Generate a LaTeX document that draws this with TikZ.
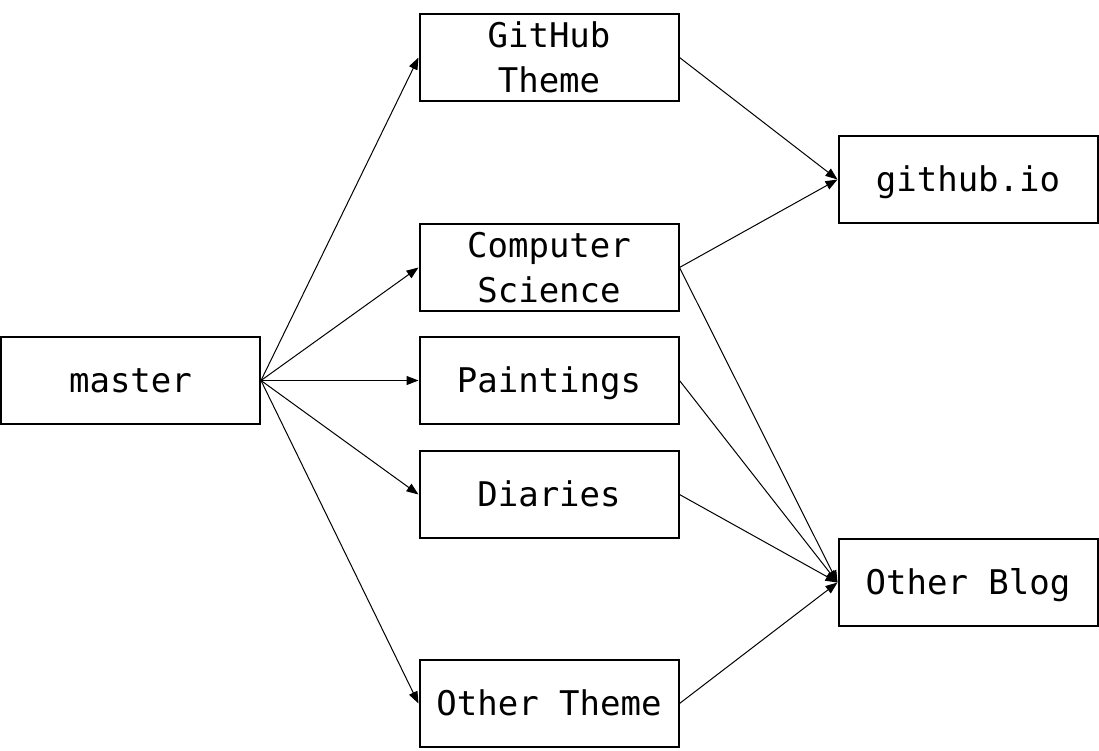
\documentclass[tikz,border=0pt]{standalone}
\usepackage{fontspec}
\setmonofont{DejaVu Sans Mono}
\usetikzlibrary{arrows.meta}
\begin{document}
\begin{tikzpicture}[x=1pt,y=-1pt,
  box/.style={draw,line width=2pt,minimum width=259pt,minimum height=87pt,inner sep=0pt,align=center,
    font=\ttfamily\fontsize{34}{45}\selectfont},
  single/.style={text height=32pt,text depth=8pt},
  conn/.style={line width=1pt,-{Triangle[length=12pt,width=9pt]}}]
\useasboundingbox (0,0) rectangle (1099,750);
\node[box,single] (master) at (130.5,380.5) {master};
\node[box] (gh) at (549,57.5) {GitHub\\Theme};
\node[box] (cs) at (549,267.5) {Computer\\Science};
\node[box,single] (pt) at (549,380.5) {Paintings};
\node[box,single] (di) at (549,494.5) {Diaries};
\node[box,single] (ot) at (549,703.5) {Other Theme};
\node[box,single] (io) at (968,179.5) {github.io};
\node[box,single] (ob) at (968,582.5) {Other Blog};
\foreach \t in {gh,cs,pt,di,ot} \draw[conn] (master.east) -- (\t.west);
\draw[conn] (gh.east) -- (io.west);
\draw[conn] (cs.east) -- (io.west);
\foreach \s in {cs,pt,di,ot} \draw[conn] (\s.east) -- (ob.west);
\end{tikzpicture}
\end{document}
